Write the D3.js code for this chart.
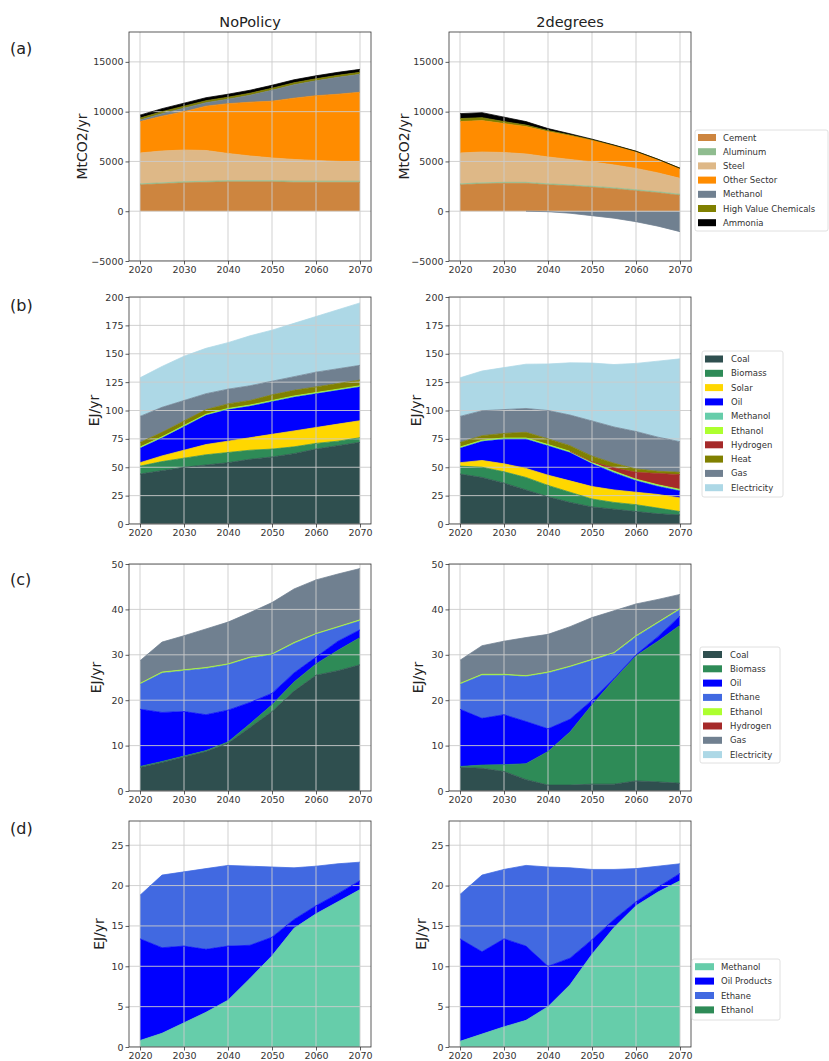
<!DOCTYPE html>
<html><head><meta charset="utf-8">
<script src="https://cdn.jsdelivr.net/npm/d3@7"></script>
<style>
body{margin:0;background:#fff;}
svg{font-family:"DejaVu Sans",sans-serif;display:block;}
</style>
</head><body>
<svg id="chart" width="829" height="1061"></svg>
<script>
// ---------------- DATA ----------------
const years = [2020, 2025, 2030, 2035, 2040, 2045, 2050, 2055, 2060, 2065, 2070];
const scenarios = ["NoPolicy", "2degrees"];
const panelLetters = ["(a)", "(b)", "(c)", "(d)"];

// (a) CO2 emissions, MtCO2/yr
const emissionKeys = ["Cement", "Aluminum", "Steel", "Other Sector", "Methanol", "High Value Chemicals", "Ammonia"];
const emissionColors = ["#cd853f", "#8fbc8f", "#deb887", "#ff8c00", "#708090", "#808000", "#000000"];
const emissionNoPolicy = [
  [2650, 2750, 2850, 2900, 2950, 2950, 2950, 2900, 2900, 2900, 2900],
  [100, 100, 110, 110, 120, 120, 120, 120, 120, 120, 120],
  [3100, 3200, 3190, 3090, 2730, 2480, 2280, 2180, 2080, 1980, 1930],
  [3150, 3500, 3850, 4450, 5000, 5400, 5700, 6150, 6500, 6750, 7000],
  [150, 250, 350, 350, 450, 700, 1100, 1350, 1500, 1700, 1800],
  [200, 200, 200, 200, 200, 200, 200, 200, 200, 200, 200],
  [300, 300, 300, 300, 300, 300, 300, 300, 300, 300, 300]
];
const emission2degrees = [
  [2650, 2750, 2800, 2800, 2650, 2550, 2400, 2250, 2050, 1850, 1600],
  [100, 100, 100, 100, 100, 100, 100, 100, 100, 100, 100],
  [3100, 3100, 3000, 2850, 2700, 2550, 2450, 2300, 2150, 1900, 1600],
  [3150, 3150, 2900, 2750, 2550, 2400, 2200, 1950, 1700, 1350, 1000],
  [0, 0, 0, 0, -50, -200, -450, -700, -1050, -1500, -2050],
  [300, 300, 200, 150, 100, 60, 30, 20, 10, 10, 10],
  [500, 500, 450, 350, 200, 120, 60, 30, 20, 10, 10]
];
const emissionTicks = [-5000, 0, 5000, 10000, 15000];

// (b) final energy, EJ/yr
const energyKeys = ["Coal", "Biomass", "Solar", "Oil", "Methanol", "Ethanol", "Hydrogen", "Heat", "Gas", "Electricity"];
const energyColors = ["#2f4f4f", "#2e8b57", "#ffd700", "#0000ff", "#66cdaa", "#adff2f", "#a52a2a", "#808000", "#708090", "#add8e6"];
const energyNoPolicy = [
  [44, 47, 50, 52, 54, 57, 59, 62, 66, 69, 72],
  [7, 8, 8, 9, 9, 8, 7, 6, 5, 4, 4],
  [3, 5, 7, 9, 10, 11, 13, 14, 14, 15, 15],
  [13, 16, 21, 26, 28, 28, 29, 30, 30, 30, 30],
  [0.3, 0.3, 0.3, 0.3, 0.3, 0.3, 0.3, 0.3, 0.3, 0.3, 0.3],
  [0.5, 0.5, 0.5, 0.5, 0.5, 0.5, 0.5, 0.5, 0.5, 0.5, 0.5],
  [0, 0, 0, 0, 0, 0, 0, 0, 0, 0, 0],
  [4, 4, 4, 4, 4, 4, 5, 5, 5, 5, 5],
  [23, 22, 18, 14, 13, 13, 12, 12, 13, 13, 13],
  [34, 36, 39, 40, 41, 44, 45, 47, 49, 52, 55]
];
const energy2degrees = [
  [44, 41, 36, 30, 24, 19, 15, 13, 11, 9, 8],
  [7, 9, 10, 11, 10, 9, 7, 6, 6, 5, 3],
  [3, 6, 7, 8, 9, 10, 11, 11, 11, 12, 12],
  [13, 17, 22, 26, 26, 25, 20, 15, 10, 7, 6],
  [0.3, 0.3, 0.3, 0.3, 0.5, 0.5, 0.8, 1, 1, 1, 1],
  [0.5, 0.5, 0.5, 0.5, 0.5, 0.5, 0.5, 0.5, 0.5, 0.5, 0.5],
  [0, 0, 0, 0, 0, 0, 0.5, 3, 6, 10, 13],
  [4, 4, 4, 5, 5, 5, 5, 4, 3, 2, 2],
  [23, 22, 21, 21, 25, 27, 31, 32, 33, 30, 27],
  [34, 35, 37, 39, 41, 46, 51, 55, 60, 67, 73]
];
const energyTicks = [0, 25, 50, 75, 100, 125, 150, 175, 200];

// (c) feedstock energy, EJ/yr
const feedKeys = ["Coal", "Biomass", "Oil", "Ethane", "Ethanol", "Hydrogen", "Gas", "Electricity"];
const feedColors = ["#2f4f4f", "#2e8b57", "#0000ff", "#4169e1", "#adff2f", "#a52a2a", "#708090", "#add8e6"];
const feedNoPolicy = [
  [5.2, 6.3, 7.5, 8.7, 10.5, 14, 17.5, 22, 25.5, 26.5, 27.8],
  [0.2, 0.2, 0.2, 0.2, 0.3, 0.8, 1.5, 2, 2.5, 4.5, 6],
  [12.6, 10.8, 9.8, 7.9, 7, 4.7, 2.5, 2, 1.5, 2, 1.7],
  [5.5, 8.7, 9, 10.2, 10, 9.8, 8.5, 6.5, 5, 3, 2],
  [0.2, 0.2, 0.2, 0.2, 0.2, 0.2, 0.2, 0.2, 0.2, 0.2, 0.2],
  [0, 0, 0, 0, 0, 0, 0, 0, 0, 0, 0],
  [5, 6.6, 7.5, 8.5, 9.2, 9.8, 11.3, 11.8, 11.8, 11.6, 11.3],
  [0, 0, 0, 0, 0, 0, 0, 0, 0, 0, 0]
];
const feed2degrees = [
  [5.2, 5, 4.3, 2.5, 1.3, 1.3, 1.5, 1.5, 2.2, 2, 1.7],
  [0.2, 0.7, 1.5, 3.5, 7.4, 11.7, 17.5, 23, 27.6, 31, 34.8],
  [12.6, 10.3, 11, 9.3, 5, 2.8, 1, 0.3, 0.2, 1, 2],
  [5.5, 9.5, 8.7, 9.9, 12.3, 11.5, 8.8, 5.5, 4, 3, 1.5],
  [0.2, 0.2, 0.2, 0.2, 0.2, 0.2, 0.2, 0.2, 0.2, 0.2, 0.2],
  [0, 0, 0, 0, 0, 0, 0, 0, 0, 0, 0],
  [5.1, 6.3, 7.3, 8.4, 8.3, 8.7, 9.2, 9.2, 7, 5, 3.1],
  [0, 0, 0, 0, 0, 0, 0, 0, 0, 0, 0]
];
const feedTicks = [0, 10, 20, 30, 40, 50];

// (d) primary chemicals production, EJ/yr
const chemKeys = ["Methanol", "Oil Products", "Ethane", "Ethanol"];
const chemColors = ["#66cdaa", "#0000ff", "#4169e1", "#2e8b57"];
const chemNoPolicy = [
  [0.8, 1.7, 3, 4.3, 5.8, 8.5, 11.3, 14.7, 16.5, 18, 19.5],
  [12.6, 10.6, 9.5, 7.8, 6.7, 4.1, 2.3, 1.1, 1, 1, 1.1],
  [5.4, 9, 9.2, 10, 10, 9.8, 8.7, 6.4, 4.9, 3.7, 2.3],
  [0, 0, 0, 0, 0, 0, 0, 0, 0, 0, 0]
];
const chem2degrees = [
  [0.7, 1.6, 2.5, 3.3, 5, 7.7, 11.5, 14.8, 17.5, 19.2, 20.6],
  [12.7, 10.2, 10.9, 9.2, 5, 3.3, 1.8, 1, 0.5, 0.6, 0.9],
  [5.5, 9.5, 8.6, 10, 12.3, 11.2, 8.7, 6.2, 4.1, 2.6, 1.2],
  [0, 0, 0, 0, 0, 0, 0, 0, 0, 0, 0]
];
const chemTicks = [0, 5, 10, 15, 20, 25];
const xTicks = [2020, 2030, 2040, 2050, 2060, 2070];

// ---------------- LAYOUT ----------------
const svg = d3.select("#chart");
const cols = [[129, 371], [449, 691]];
const rowDefs = [
  {top: 32, bottom: 261, keys: emissionKeys, colors: emissionColors, data: [emissionNoPolicy, emission2degrees],
   domain: [-5000, 18000], ticks: emissionTicks, label: "MtCO2/yr", labelX: 82, letterY: 54,
   legend: {x: 695, y: 130, w: 133, h: 101, first: 137.5, step: 14.2, sw: 18, tx: 723}},
  {top: 297, bottom: 524, keys: energyKeys, colors: energyColors, data: [energyNoPolicy, energy2degrees],
   domain: [0, 200], ticks: energyTicks, label: "EJ/yr", labelX: 94, letterY: 311,
   legend: {x: 702, y: 351, w: 81, h: 146, first: 359, step: 14.3, sw: 18, tx: 731}},
  {top: 564, bottom: 791, keys: feedKeys, colors: feedColors, data: [feedNoPolicy, feed2degrees],
   domain: [0, 50], ticks: feedTicks, label: "EJ/yr", labelX: 96, letterY: 585,
   legend: {x: 700, y: 647, w: 80, h: 116, first: 654.5, step: 14.3, sw: 19, tx: 730}},
  {top: 821, bottom: 1047, keys: chemKeys, colors: chemColors, data: [chemNoPolicy, chem2degrees],
   domain: [0, 28], ticks: chemTicks, label: "EJ/yr", labelX: 99, letterY: 834,
   legend: {x: 692, y: 959, w: 88, h: 61, first: 966.7, step: 14.4, sw: 19, tx: 721}}
];

// stack: columns that are entirely <= 0 are stacked downward from zero, others upward
function offsetBySign(series, order) {
  const m = series[order[0]].length;
  const neg = series.map(s => s.every(d => d[1] - d[0] <= 0) && s.some(d => d[1] - d[0] < 0));
  for (let j = 0; j < m; ++j) {
    let yp = 0, yn = 0;
    for (const i of order) {
      const d = series[i][j];
      const dy = d[1] - d[0];
      if (neg[i]) { d[1] = yn; yn += dy; d[0] = yn; }
      else { d[0] = yp; yp += dy; d[1] = yp; }
    }
  }
  series.forEach((s, i) => s.negative = neg[i]);
}

rowDefs.forEach((row, ri) => {
  svg.append("text").attr("x", 10).attr("y", row.letterY)
    .attr("font-size", 16).attr("fill", "#222").text(panelLetters[ri]);

  cols.forEach((col, ci) => {
    const x = d3.scaleLinear().domain([2017.5, 2072.5]).range(col);
    const y = d3.scaleLinear().domain(row.domain).range([row.bottom, row.top]);
    const arrs = row.data[ci];
    const table = years.map((yr, j) => {
      const o = {year: yr};
      row.keys.forEach((k, i) => o[k] = arrs[i][j]);
      return o;
    });
    const stacked = d3.stack().keys(row.keys).offset(offsetBySign)(table);

    const g = svg.append("g");
    const clipId = `clip${ri}_${ci}`;
    g.append("clipPath").attr("id", clipId).append("rect")
      .attr("x", col[0]).attr("y", row.top).attr("width", col[1] - col[0]).attr("height", row.bottom - row.top);
    const plot = g.append("g").attr("clip-path", `url(#${clipId})`);

    const area = d3.area().x(d => x(d.data.year)).y0(d => y(d[0])).y1(d => y(d[1]));
    plot.selectAll("path.area").data(stacked).join("path")
      .attr("class", "area").attr("d", area).attr("fill", (d, i) => row.colors[i]);

    // grid over fills
    plot.selectAll("line.gx").data(xTicks).join("line")
      .attr("x1", d => x(d)).attr("x2", d => x(d)).attr("y1", row.top).attr("y2", row.bottom)
      .attr("stroke", "#cccccc").attr("stroke-width", 0.9);
    plot.selectAll("line.gy").data(row.ticks).join("line")
      .attr("y1", d => y(d)).attr("y2", d => y(d)).attr("x1", col[0]).attr("x2", col[1])
      .attr("stroke", "#cccccc").attr("stroke-width", 0.9);

    // edge lines (as pandas draws them, on top of all fills)
    stacked.forEach((s, i) => {
      const vals = arrs[i];
      if (vals.every(v => v === 0)) return;
      const line = d3.line()
        .defined((d, j) => vals[j] !== 0 || (j > 0 && vals[j - 1] !== 0) || (j < vals.length - 1 && vals[j + 1] !== 0))
        .x(d => x(d.data.year)).y(d => y(s.negative ? d[0] : d[1]));
      plot.append("path").attr("d", line(s)).attr("fill", "none")
        .attr("stroke", row.colors[i]).attr("stroke-width", 0.9).attr("stroke-opacity", 0.85);
    });

    // axes
    const ax = g.append("g").attr("transform", `translate(0,${row.bottom})`)
      .call(d3.axisBottom(x).tickValues(xTicks).tickFormat(d3.format("d")).tickSize(3.5).tickPadding(2));
    const ay = g.append("g").attr("transform", `translate(${col[0]},0)`)
      .call(d3.axisLeft(y).tickValues(row.ticks).tickFormat(d3.format("d")).tickSize(3.5).tickPadding(2));
    [ax, ay].forEach(a => {
      a.select(".domain").remove();
      a.selectAll("text").attr("font-size", 9.5).attr("fill", "#333").attr("font-family", "DejaVu Sans, sans-serif");
      a.selectAll("line").attr("stroke", "#333").attr("stroke-width", 0.8);
    });
    g.append("rect").attr("x", col[0]).attr("y", row.top)
      .attr("width", col[1] - col[0]).attr("height", row.bottom - row.top)
      .attr("fill", "none").attr("stroke", "#333").attr("stroke-width", 0.8);

    // y label
    const lx = row.labelX + (ci === 1 ? 322 : 0);
    const ly = (row.top + row.bottom) / 2;
    g.append("text").attr("transform", `translate(${lx},${ly}) rotate(-90)`)
      .attr("text-anchor", "middle").attr("dominant-baseline", "central")
      .attr("font-size", 14).attr("fill", "#222").text(row.label);

    if (ri === 0) {
      svg.append("text").attr("x", (col[0] + col[1]) / 2).attr("y", 27)
        .attr("text-anchor", "middle").attr("font-size", 14.5).attr("fill", "#222").text(scenarios[ci]);
    }
  });

  // legend
  const L = row.legend;
  const lg = svg.append("g");
  lg.append("rect").attr("x", L.x).attr("y", L.y).attr("width", L.w).attr("height", L.h)
    .attr("rx", 2).attr("fill", "#fff").attr("stroke", "#d8d8d8").attr("stroke-width", 0.8);
  row.keys.forEach((k, i) => {
    const cy = L.first + i * L.step;
    lg.append("rect").attr("x", L.x + 3).attr("y", cy - 3.5).attr("width", L.sw).attr("height", 7)
      .attr("fill", row.colors[i]);
    lg.append("text").attr("x", L.tx).attr("y", cy).attr("dominant-baseline", "central")
      .attr("font-size", 8.5).attr("fill", "#333").text(k);
  });
});
</script>
</body></html>
